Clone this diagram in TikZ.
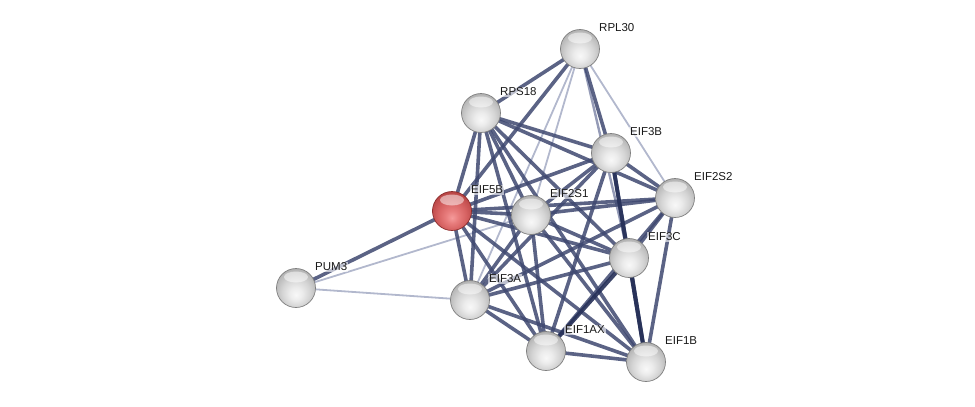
\documentclass[tikz,border=0pt]{standalone}
\usepackage{fontspec}
\setmainfont{Liberation Sans}
\usetikzlibrary{calc}
\pgfdeclarelayer{edgelayer}
\pgfsetlayers{edgelayer,main}
\definecolor{edgedark}{RGB}{62,72,112}
\definecolor{edgedarkest}{RGB}{38,48,88}
\definecolor{edgemid}{RGB}{130,138,170}
\definecolor{edgelight}{RGB}{170,176,200}
\definecolor{gs0}{RGB}{248,248,248}
\definecolor{gs1}{RGB}{236,236,236}
\definecolor{gs2}{RGB}{212,212,212}
\definecolor{gs3}{RGB}{180,180,180}
\definecolor{gs4}{RGB}{140,140,140}
\definecolor{rs0}{RGB}{245,155,155}
\definecolor{rs1}{RGB}{232,125,125}
\definecolor{rs2}{RGB}{214,98,98}
\definecolor{rs3}{RGB}{186,70,70}
\definecolor{rs4}{RGB}{140,45,45}
\pgfdeclareradialshading{greysphere}{\pgfpoint{0bp}{-9bp}}{color(0bp)=(gs0); color(8bp)=(gs1); color(18bp)=(gs2); color(28bp)=(gs3); color(35bp)=(gs4); color(50bp)=(gs4)}
\pgfdeclareradialshading{redsphere}{\pgfpoint{0bp}{-9bp}}{color(0bp)=(rs0); color(8bp)=(rs1); color(18bp)=(rs2); color(28bp)=(rs3); color(35bp)=(rs4); color(50bp)=(rs4)}
\tikzset{
  protein/.style={circle, minimum size=39pt, inner sep=0pt, shading=greysphere, draw=black!50, line width=0.7pt,
    path picture={\fill[white, fill opacity=0.5] ([yshift=11pt]path picture bounding box.center) ellipse [x radius=12pt, y radius=5.5pt];}},
  query/.style={protein, shading=redsphere, draw=rs4},
  lbl/.style={anchor=west, font=\fontsize{11.5}{12}\selectfont, text=black!90, fill=white, fill opacity=0.6, text opacity=1, inner sep=1pt},
  ed/.style={draw=edgedark, line width=3.6pt, draw opacity=0.85},
  edd/.style={draw=edgedarkest, line width=4pt, draw opacity=0.9},
  em/.style={draw=edgemid, line width=2.4pt, draw opacity=0.85},
  el/.style={draw=edgelight, line width=1.8pt, draw opacity=0.9},
}
\begin{document}
\begin{tikzpicture}[x=1pt, y=-1pt]
\useasboundingbox (0,0) rectangle (975,407);
% nodes
\node[protein] (RPL30)  at (580,49)  {};
\node[protein] (RPS18)  at (481,113) {};
\node[protein] (EIF3B)  at (611,153) {};
\node[protein] (EIF2S2) at (675,198) {};
\node[query]   (EIF5B)  at (452,211) {};
\node[protein] (EIF2S1) at (531,215) {};
\node[protein] (EIF3C)  at (629,258) {};
\node[protein] (PUM3)   at (296,288) {};
\node[protein] (EIF3A)  at (470,300) {};
\node[protein] (EIF1AX) at (546,351) {};
\node[protein] (EIF1B)  at (646,362) {};
% labels
\foreach \n in {RPL30,RPS18,EIF3B,EIF2S2,EIF5B,EIF2S1,EIF3C,PUM3,EIF3A,EIF1AX,EIF1B}
  \node[lbl] (l\n) at ([shift={(18,-21)}]\n.center) {\n};
% edges
\begin{pgfonlayer}{edgelayer}
\foreach \a/\b in {RPL30/EIF2S2, RPL30/EIF2S1, RPL30/EIF3A, PUM3/EIF3A, PUM3/EIF2S1}
  \draw[el] (\a.center) -- (\b.center);
\draw[em] (RPL30.center) -- (EIF3C.center);
\foreach \a/\b in {RPL30/RPS18, RPL30/EIF5B, RPL30/EIF3B,
  RPS18/EIF5B, RPS18/EIF2S1, RPS18/EIF3A, RPS18/EIF1AX, RPS18/EIF1B, RPS18/EIF3B, RPS18/EIF2S2, RPS18/EIF3C,
  EIF5B/EIF3B, EIF5B/EIF2S2, EIF5B/EIF2S1, EIF5B/EIF3C, EIF5B/EIF3A, EIF5B/EIF1AX, EIF5B/EIF1B, EIF5B/PUM3,
  EIF3B/EIF2S2, EIF3B/EIF2S1, EIF3B/EIF3C, EIF3B/EIF3A, EIF3B/EIF1AX,
  EIF2S2/EIF2S1, EIF2S2/EIF3C, EIF2S2/EIF3A, EIF2S2/EIF1AX, EIF2S2/EIF1B,
  EIF2S1/EIF3C, EIF2S1/EIF3A, EIF2S1/EIF1AX, EIF2S1/EIF1B,
  EIF3C/EIF3A, EIF3A/EIF1AX, EIF3A/EIF1B, EIF1AX/EIF1B}
  \draw[ed] (\a.center) -- (\b.center);
\foreach \a/\b in {EIF3B/EIF1B, EIF3C/EIF1B, EIF3C/EIF1AX}
  \draw[edd] (\a.center) -- (\b.center);
\end{pgfonlayer}
\end{tikzpicture}
\end{document}
